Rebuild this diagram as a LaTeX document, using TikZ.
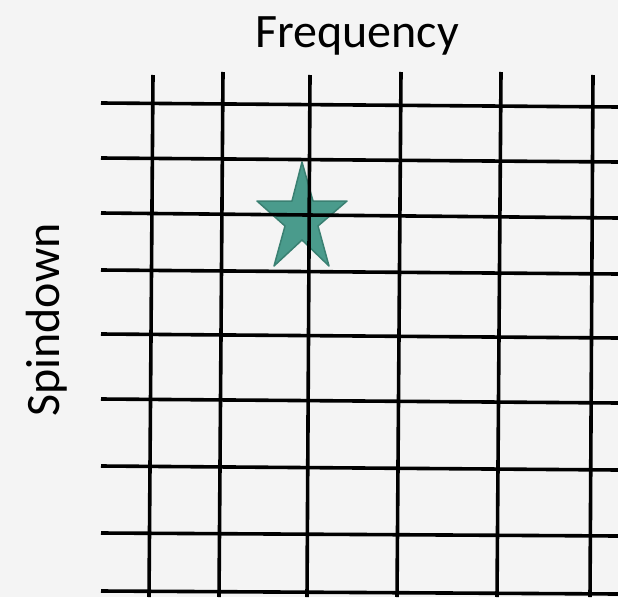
\documentclass[tikz,border=0pt]{standalone}
\usepackage{fontspec}
\setmainfont{Carlito}
\definecolor{bg}{HTML}{F4F4F4}
\definecolor{starfill}{RGB}{74,155,140}
\definecolor{stardraw}{RGB}{58,128,114}
\begin{document}
\begin{tikzpicture}[x=1pt,y=-1pt,
  gridline/.style={line width=3.6pt,black},
  label/.style={font=\fontsize{48}{56}\selectfont,inner sep=0pt,anchor=base},
  starshape/.style={fill=starfill,draw=stardraw,line width=1.5pt,line join=round}]
\fill[bg] (0,0) rectangle (618,597);
\useasboundingbox (0,0) rectangle (618,597);
% star
\draw[starshape] (302,162) -- (313,201) -- (347,201) -- (318,226) -- (329,266)
  -- (302,240) -- (274,266) -- (285,226) -- (257,201) -- (292,201) -- cycle;
% horizontal lines
\foreach \a/\b in {103/107,158/162,213/218,270/274,334/338,399/403,466/470,533/536,591/594}
  \draw[gridline] (101,\a) -- (618,\b);
% vertical lines
\foreach \t/\ty/\bx in {153/75/149,223/72/219,310/75/307,401/72/397,501/72/497,593/75/590}
  \draw[gridline] (\t,\ty) -- (\bx,597);
\node[label] (freq) at (357,47) {Frequency};
\node[label,rotate=90] (spin) at (59,320) {Spindown};
\end{tikzpicture}
\end{document}
